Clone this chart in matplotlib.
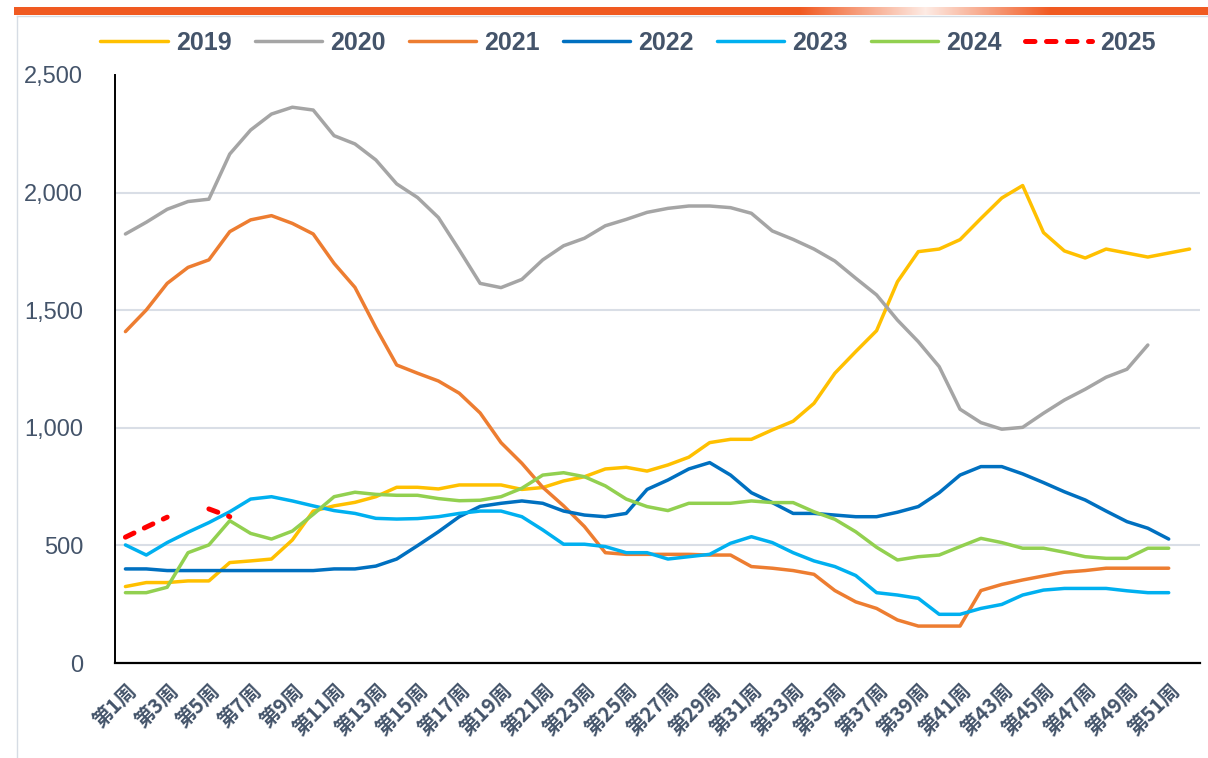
import numpy as np
import matplotlib.pyplot as plt
from matplotlib.lines import Line2D

plt.rcParams['font.family'] = ['Liberation Sans', 'Noto Sans CJK SC', 'DejaVu Sans']

# week categories, odd weeks get a label
weeks = np.arange(1, 53)
tick_weeks = weeks[::2]
tick_labels = [f'第{w}周' for w in tick_weeks]

y2019 = [325, 342, 342, 349, 349, 427, 434, 442, 523, 646,
         668, 683, 707, 747, 747, 740, 757, 757, 757, 738,
         746, 774, 792, 825, 832, 816, 842, 875, 937, 951,
         951, 991, 1028, 1104, 1232, 1324, 1413, 1621, 1749, 1760,
         1800, 1890, 1977, 2030, 1830, 1752, 1722, 1760, 1743, 1726,
         1743, 1760]
y2020 = [1824, 1874, 1929, 1962, 1972, 2164, 2266, 2334, 2363, 2351,
         2242, 2207, 2139, 2037, 1979, 1894, 1756, 1614, 1596, 1631,
         1714, 1774, 1806, 1859, 1886, 1916, 1933, 1943, 1943, 1936,
         1912, 1837, 1801, 1760, 1709, 1636, 1565, 1458, 1366, 1260,
         1079, 1022, 994, 1002, 1062, 1118, 1164, 1215, 1249, 1352]
y2021 = [1409, 1501, 1614, 1682, 1714, 1834, 1884, 1902, 1869, 1824,
         1699, 1597, 1426, 1267, 1232, 1199, 1147, 1063, 937, 849,
         747, 668, 580, 469, 462, 462, 462, 462, 459, 459,
         410, 403, 393, 377, 308, 260, 232, 183, 157, 157,
         157, 308, 334, 353, 370, 386, 393, 403, 403, 403,
         403]
y2022 = [400, 400, 393, 393, 393, 393, 393, 393, 393, 393,
         400, 400, 412, 442, 499, 558, 622, 666, 679, 689,
         679, 646, 629, 622, 636, 738, 778, 825, 852, 799,
         724, 682, 636, 636, 629, 622, 622, 641, 665, 724,
         799, 835, 835, 804, 767, 728, 693, 646, 601, 573,
         527]
y2023 = [502, 459, 512, 556, 597, 643, 697, 707, 689, 668,
         648, 636, 615, 612, 614, 622, 636, 646, 646, 622,
         566, 505, 505, 495, 469, 469, 442, 452, 462, 509,
         537, 512, 469, 434, 410, 372, 299, 289, 275, 207,
         207, 232, 249, 289, 310, 317, 317, 317, 307, 299,
         299]
y2024 = [299, 299, 322, 469, 502, 605, 551, 527, 561, 632,
         707, 726, 717, 713, 713, 699, 690, 692, 707, 743,
         799, 809, 792, 753, 697, 665, 648, 679, 679, 679,
         689, 682, 682, 643, 611, 558, 492, 438, 452, 459,
         495, 530, 512, 488, 488, 471, 452, 445, 445, 488,
         488]
y2025 = [535, 578, 620, None, 655, 622]

years = ['2019', '2020', '2021', '2022', '2023', '2024', '2025']
values = [y2019, y2020, y2021, y2022, y2023, y2024, y2025]
colors = ['#FFC000', '#A5A5A5', '#ED7D31', '#0070C0', '#00B0F0', '#92D050', '#FF0000']

text_color = '#44546A'

fig = plt.figure(figsize=(12.08, 7.58), dpi=100)
W, H = 1208, 758
ax = fig.add_axes([115 / W, 1 - 663 / H, (1200 - 115) / W, (663 - 75) / H])

for year, vals, c in zip(years, values, colors):
    y = np.array([np.nan if v is None else v for v in vals], dtype=float)
    x = weeks[:len(y)]
    if year == '2025':
        ax.plot(x, y, color=c, lw=3.6, dashes=(1.9, 2.3), dash_capstyle='round',
                label=year, zorder=3)
    else:
        ax.plot(x, y, color=c, lw=2.5, solid_capstyle='round', solid_joinstyle='round',
                label=year, zorder=2)

ax.set_xlim(0.5, 52.5)
ax.set_ylim(0, 2500)
ax.set_yticks(range(0, 2501, 500))
ax.set_yticklabels([f'{v:,}' for v in range(0, 2501, 500)])
ax.set_xticks(tick_weeks)
ax.set_xticklabels(tick_labels, rotation=45, ha='right', va='top', rotation_mode='anchor',
                   fontsize=14.5, fontweight='bold', color=text_color,
                   family=['Noto Sans CJK SC', 'DejaVu Sans'])
ax.tick_params(axis='x', length=0, pad=12)
ax.tick_params(axis='y', length=0, pad=23, labelsize=17, labelcolor=text_color)

ax.yaxis.grid(True, color='#D9DEE6', lw=1.5)
ax.set_axisbelow(True)
ax.yaxis.get_gridlines()[-1].set_visible(False)
ax.yaxis.get_gridlines()[0].set_visible(False)

for s in ['top', 'right']:
    ax.spines[s].set_visible(False)
ax.spines['left'].set_linewidth(1.4)
ax.spines['bottom'].set_linewidth(1.6)

fig.legend(loc='center', bbox_to_anchor=(628 / W, 1 - 43 / H), ncol=7, frameon=False,
           prop={'size': 18, 'weight': 'bold'}, labelcolor=text_color,
           handlelength=2.7, handletextpad=0.32, columnspacing=0.92)

# orange header bar with a faded patch on the right
bar_ax = fig.add_axes([14 / W, 1 - 15 / H, 1 - 14 / W, 8 / H])
px = np.arange(W - 14) + 14
fade = np.clip(1 - np.abs(px - 925) / 125, 0, 1) * 0.88
base = np.array([0.945, 0.353, 0.133])
row = base[None, :] * (1 - fade[:, None]) + fade[:, None]
bar_ax.imshow(row[None, :, :], aspect='auto', extent=(0, 1, 0, 1))
bar_ax.axis('off')

# faint frame lines
fig.add_artist(Line2D([17 / W, 17 / W], [0, 1 - 16 / H], transform=fig.transFigure,
                      color='#D6DCE4', lw=1))
fig.add_artist(Line2D([17 / W, 1], [1 - 16 / H, 1 - 16 / H], transform=fig.transFigure,
                      color='#D6DCE4', lw=1))

fig.savefig('out.png', dpi=100)
